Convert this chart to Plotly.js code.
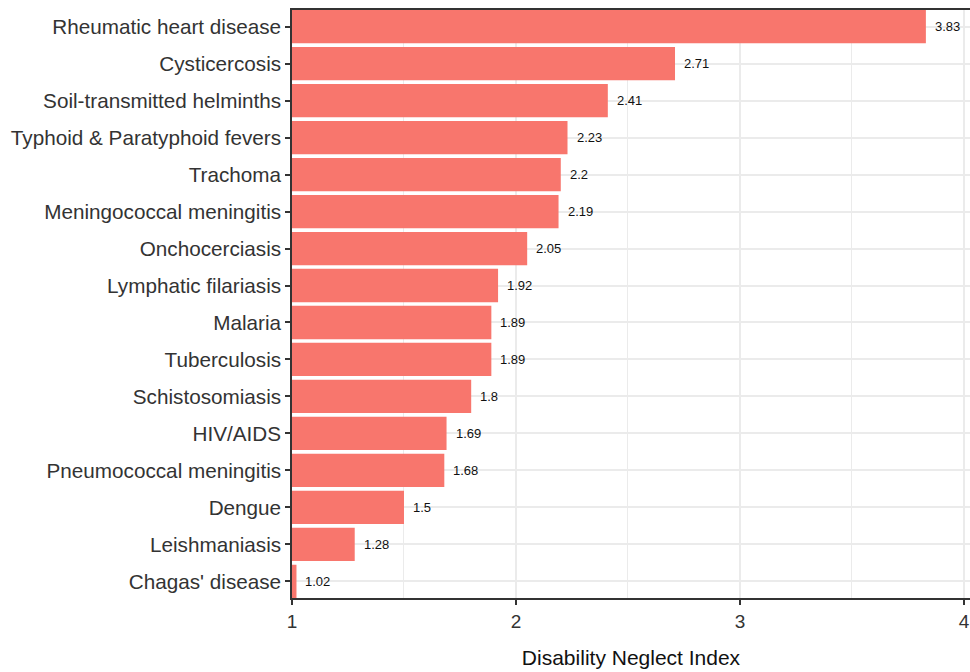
<!DOCTYPE html>
<html><head><meta charset="utf-8">
<script src="https://cdn.plot.ly/plotly-3.0.1.min.js"></script>
<style>html,body{margin:0;padding:0;background:#fff}</style>
</head><body>
<div id="chart" style="width:970px;height:672px"></div>
<script>
const diseases = ["Rheumatic heart disease","Cysticercosis","Soil-transmitted helminths","Typhoid & Paratyphoid fevers","Trachoma","Meningococcal meningitis","Onchocerciasis","Lymphatic filariasis","Malaria","Tuberculosis","Schistosomiasis","HIV/AIDS","Pneumococcal meningitis","Dengue","Leishmaniasis","Chagas' disease"];
const dni = [3.83,2.71,2.41,2.23,2.2,2.19,2.05,1.92,1.89,1.89,1.8,1.69,1.68,1.5,1.28,1.02];
const xTicks = [1,2,3,4];

const trace = {
  type: 'bar', orientation: 'h',
  y: diseases, x: dni,
  width: 0.9,
  marker: {color: '#F8766D'},
  hoverinfo: 'x+y'
};
const annotations = diseases.map((d,i)=>({
  x: dni[i], y: d, xref: 'x', yref: 'y',
  text: String(dni[i]), showarrow: false,
  xanchor: 'left', xshift: 7,
  font: {family: 'Liberation Sans, Arial, sans-serif', size: 13, color: '#111'}
}));
const layout = {
  width: 970, height: 672,
  margin: {l: 292, r: 0, t: 10, b: 74},
  paper_bgcolor: '#fff', plot_bgcolor: '#fff',
  showlegend: false,
  font: {family: 'Liberation Sans, Arial, sans-serif'},
  bargap: 0.1,
  xaxis: {
    range: [1, 4.027], tickvals: xTicks, ticktext: xTicks.map(String),
    ticks: 'outside', ticklen: 5, tickwidth: 1.5, tickcolor: '#333',
    tickfont: {size: 19, color: '#333'},
    showline: true, linecolor: '#333', linewidth: 1.5, mirror: true,
    showgrid: true, gridcolor: '#ebebeb', gridwidth: 1.5,
    minor: {dtick: 0.5, showgrid: true, gridcolor: '#ebebeb', gridwidth: 1},
    zeroline: false,
    title: {text: 'Disability Neglect Index', font: {size: 21, color: '#111'}, standoff: 20}
  },
  yaxis: {
    range: [15.45, -0.45], autorange: false,
    ticks: 'outside', ticklen: 5, tickwidth: 1.5, tickcolor: '#333',
    tickfont: {size: 20.7, color: '#333'},
    showline: true, linecolor: '#333', linewidth: 1.5, mirror: false,
    showgrid: true, gridcolor: '#ebebeb', gridwidth: 1.5,
    zeroline: false
  },
  annotations: annotations
};
Plotly.newPlot('chart', [trace], layout, {displayModeBar: false});
</script>
</body></html>
